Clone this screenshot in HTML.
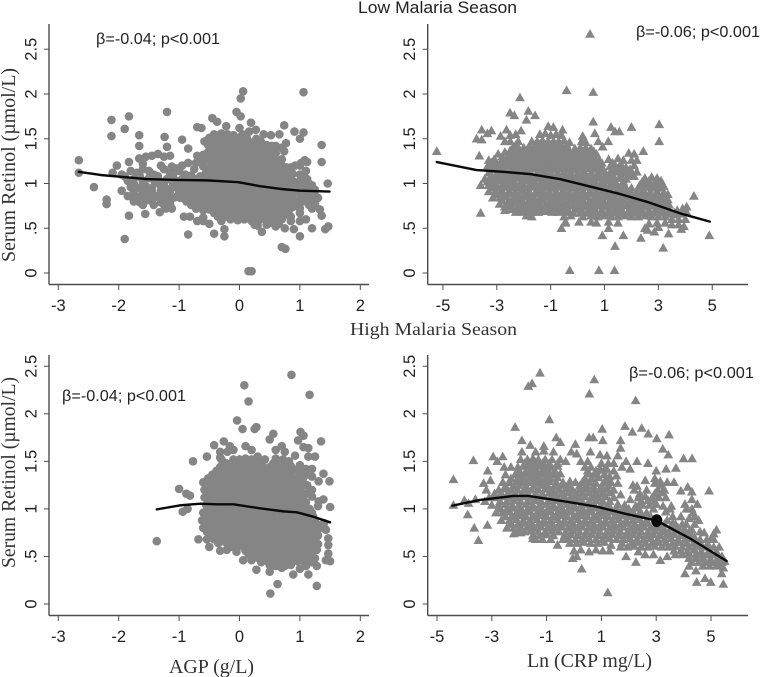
<!DOCTYPE html>
<html lang="en">
<head>
<meta charset="utf-8">
<title>Serum Retinol vs AGP and CRP</title>
<style>
html,body{margin:0;padding:0;background:#fff;}
svg{display:block;}
.serif{font-family:"Liberation Serif",serif;fill:#333;}
.sans{font-family:"Liberation Sans",sans-serif;fill:#222;}
</style>
</head>
<body>
<svg id="chart" xmlns="http://www.w3.org/2000/svg" width="760" height="677" viewBox="0 0 760 677">
<text class="sans" x="358" y="13" font-size="17" textLength="159" lengthAdjust="spacingAndGlyphs">Low Malaria Season</text>
<text class="serif" x="350" y="335" font-size="17.5" textLength="167" lengthAdjust="spacingAndGlyphs">High Malaria Season</text>
<text class="serif" transform="translate(15,262) rotate(-90)" font-size="20" textLength="194" lengthAdjust="spacingAndGlyphs">Serum Retinol (µmol/L)</text>
<text class="serif" transform="translate(15,568) rotate(-90)" font-size="20" textLength="191" lengthAdjust="spacingAndGlyphs">Serum Retinol (µmol/L)</text>
<text class="serif" x="169" y="673" font-size="20" textLength="85" lengthAdjust="spacingAndGlyphs">AGP (g/L)</text>
<text class="serif" x="527" y="667" font-size="20" textLength="125" lengthAdjust="spacingAndGlyphs">Ln (CRP mg/L)</text>
<g id="panels"></g>
<text class="sans" x="96" y="44" font-size="16" textLength="124" lengthAdjust="spacingAndGlyphs">β=-0.04; p&lt;0.001</text>
<text class="sans" x="636" y="37" font-size="16" textLength="124" lengthAdjust="spacingAndGlyphs">β=-0.06; p&lt;0.001</text>
<text class="sans" x="62" y="401" font-size="16" textLength="124" lengthAdjust="spacingAndGlyphs">β=-0.04; p&lt;0.001</text>
<text class="sans" x="629" y="378" font-size="16" textLength="125" lengthAdjust="spacingAndGlyphs">β=-0.06; p&lt;0.001</text>
</svg>
<script>
const agpTicks = [-3,-2,-1,0,1,2];
const crpTicksLow = [-5,-3,-1,1,3,5];
const crpTicksHigh = [-5,-3,-1,1,3,5];
const retinolTicks = [0,0.5,1,1.5,2,2.5];
const retinolTickLabels = ["0",".5","1","1.5","2","2.5"];

const lowAgpFit = [[-2.66,1.13],[-2.3,1.095],[-1.54,1.05],[-1.04,1.04],[-0.54,1.035],[-0.02,1.015],[0.34,0.97],[0.67,0.94],[1,0.92],[1.49,0.91]];
const lowCrpFit = [[-5.23,1.24],[-3.75,1.15],[-2.76,1.13],[-1.77,1.106],[-0.66,1.05],[0.58,0.957],[1.57,0.883],[2.56,0.797],[3.8,0.667],[4.91,0.574]];
const highAgpFit = [[-1.37,0.995],[-0.99,1.037],[-0.65,1.055],[-0.38,1.048],[-0.1,1.048],[0.34,1.006],[0.73,0.974],[0.95,0.964],[1.22,0.918],[1.5,0.859]];
const highCrpFit = [[-4.44,1.034],[-3.43,1.094],[-2.21,1.136],[-1.67,1.136],[-0.27,1.076],[0.83,1.023],[1.92,0.946],[3.02,0.876],[4.23,0.69],[5.57,0.452]];
const highCrpMarker = [3.02,0.876];

const lowAgpPoints = [
[-2.66,1.26],[-2.66,1.12],[-2.41,.96],[-2.2,.82],[-2.2,.77],[-2.12,1.71],[-2.12,1.53],[-1.9,1.61],[-1.83,1.75],[-1.83,1.24],[-1.9,.38],[-1.83,.64],[-1.66,1.54],[-1.66,1.42],[-1.66,1.28],[-1.56,.66],[-1.2,1.8],[-1.24,1.52],[-1.2,1.41],[-.95,1.49],[-.85,.43],[-.42,.44],[-.25,.41],[.06,2.03],[.02,1.95],[-.05,1.8],[.02,1.75],[1.06,2.02],[.74,1.65],[.91,1.58],[1.06,1.57],[1,1.5],[1.36,1.43],[1.36,1.24],[1.46,1],[1.47,.52],[1.42,.49],[1.2,.5],[1,.41],[.7,.29],[.76,.27],[.15,.02],[.2,.02],[.37,.46],[1.36,.64],[1.33,.71],
[-.45,1.73],[-.37,1.69],[-.22,1.64],[-.7,1.63],[-.63,1.62],[0,1.62],[.19,1.68],[.16,1.58],[.27,1.6],[.4,1.55],[.52,1.54],[.66,1.55],[.77,1.45],[.74,1.36],[.53,1.42],[-.85,1.39],
[-1.55,1.3],[-1.45,1.31],[-1.35,1.33],[-1.25,1.3],[-1.15,1.31],
[-2.03,1.2],[-1.6,1.22],[-1.3,1.2],[-1.12,1.19],[-.95,1.2],
[-2.1,1.12],[-1.95,1.1],[-1.8,1.14],[-1.7,1.12],[-1.5,1.14],[-1.42,1.1],[-1.15,1.12],[-1,1.14],[-.9,1.1],
[-1.85,1.03],[-1.75,1.05],[-1.6,1.03],[-1.5,1.06],[-1.3,1.02],[-1.2,1.05],[-1.05,1.03],[-.95,1.05],[-.82,1.03],[-.7,1.05],
[-1.95,.92],[-1.8,.96],[-1.7,.95],[-1.55,.97],[-1.45,.95],[-1.3,.97],[-1.2,.94],[-1.1,.96],[-.98,.97],[-.86,.95],[-.75,.97],[-.63,.95],
[-1.85,.86],[-1.75,.88],[-1.62,.87],[-1.5,.89],[-1.38,.86],[-1.28,.88],[-1.18,.89],[-1.05,.85],[-.93,.88],[-.8,.87],[-.7,.89],[-.58,.87],
[-1.75,.8],[-1.65,.79],[-1.55,.81],[-1.45,.8],[-1.3,.79],[-1.2,.81],[-.88,.8],[-.75,.79],[-.62,.81],
[-1.32,.68],[-1.22,.72],[-1.12,.72],[-.72,.72],[-.6,.7],
[-.92,.63],[-.82,.63],[-.6,.58],[-.5,.55],
[-.42,1.55],[-.3,1.56],[-.2,1.55],[-.1,1.54],[.05,1.55],
[-.58,1.47],[-.48,1.48],[-.38,1.47],[-.26,1.47],[-.14,1.46],[-.02,1.47],[.1,1.47],[.22,1.46],[.35,1.47],
[-.46,1.39],[-.34,1.39],[-.22,1.4],[-.1,1.39],[.02,1.39],[.14,1.4],[.26,1.38],[.4,1.39],[.5,1.38],[.7,1.4],
[-.7,1.31],[-.6,1.32],[-.42,1.31],[-.3,1.31],[-.18,1.32],[-.06,1.31],[.06,1.31],[.18,1.3],[.3,1.31],[.42,1.32],[.54,1.31],
[-.85,1.23],[-.72,1.23],[-.6,1.24],[-.45,1.23],[-.33,1.23],[-.21,1.22],[-.09,1.23],[.03,1.24],[.15,1.23],[.27,1.23],[.39,1.22],[.51,1.23],[.63,1.24],[1.02,1.23],[1.08,1.26],[1.12,1.24],
[-.54,1.15],[-.42,1.15],[-.3,1.16],[-.18,1.15],[-.06,1.15],[.06,1.14],[.18,1.15],[.3,1.15],[.42,1.16],[.54,1.15],[.66,1.15],[.78,1.18],[.92,1.2],[1,1.2],[1.1,1.14],
[-.5,1.07],[-.38,1.07],[-.26,1.08],[-.14,1.07],[-.02,1.07],[.1,1.06],[.22,1.07],[.34,1.07],[.46,1.08],[.58,1.07],[.7,1.07],[.82,1.08],[1.05,1.08],[1.12,1.05],
[-.5,.99],[-.38,.99],[-.26,1],[-.14,.99],[-.02,.99],[.1,.98],[.22,.99],[.34,.99],[.46,1],[.58,.99],[.7,.99],[.82,1],[.9,.98],[1.15,1],[1.2,.98],
[-.5,.91],[-.38,.91],[-.26,.92],[-.14,.91],[-.02,.91],[.1,.9],[.22,.91],[.34,.91],[.46,.92],[.58,.91],[.7,.91],[.82,.92],[.94,.9],[1,.91],[1.1,.88],[1.2,.9],[1.3,.84],
[-.55,.83],[-.43,.83],[-.31,.84],[-.19,.83],[-.07,.83],[.05,.82],[.17,.83],[.29,.83],[.41,.84],[.53,.83],[.65,.83],[.77,.84],[.89,.82],[1.2,.8],[1.25,.83],
[-.55,.75],[-.43,.75],[-.31,.76],[-.19,.75],[-.07,.75],[.05,.74],[.17,.75],[.29,.75],[.41,.76],[.53,.75],[.65,.75],[.77,.76],[.89,.74],[.95,.76],[1.15,.76],[1.25,.77],
[-.42,.67],[-.3,.67],[-.18,.68],[-.06,.67],[.06,.67],[.18,.66],[.3,.67],[.42,.68],[.54,.67],[.66,.67],[.8,.66],[1,.67],
[-.7,.58],[-.6,.62],[-.3,.58],[-.15,.6],[-.03,.59],[.08,.6],[.2,.58],[.32,.59],[.44,.59],[.55,.58],[.7,.6],[.85,.58],[1,.58],[1.1,.6],
[.3,.53],[.45,.54],[.6,.52],[.75,.5],[.9,.49],[-.25,.49]
];
const lowAgpDense = [
[-.5,1.51],[-.38,1.51],[-.26,1.52],[-.14,1.51],[-.02,1.51],[.12,1.51],[.28,1.5],
[-.52,1.43],[-.4,1.43],[-.28,1.44],[-.16,1.43],[-.04,1.43],[.08,1.43],[.2,1.44],[.32,1.43],[.45,1.43],[.6,1.42],
[-.52,1.35],[-.36,1.35],[-.24,1.36],[-.12,1.35],[0,1.35],[.12,1.35],[.24,1.36],[.36,1.35],[.48,1.35],[.6,1.34],
[-.66,1.27],[-.52,1.27],[-.39,1.28],[-.27,1.27],[-.15,1.27],[-.03,1.27],[.09,1.28],[.21,1.27],[.33,1.27],[.45,1.27],[.57,1.28],[.7,1.27],
[-.6,1.19],[-.48,1.19],[-.36,1.2],[-.24,1.19],[-.12,1.19],[0,1.19],[.12,1.2],[.24,1.19],[.36,1.19],[.48,1.19],[.6,1.2],[.72,1.19],[.85,1.18],
[-.56,1.11],[-.44,1.11],[-.32,1.12],[-.2,1.11],[-.08,1.11],[.04,1.11],[.16,1.12],[.28,1.11],[.4,1.11],[.52,1.11],[.64,1.12],[.76,1.11],[.88,1.11],[1,1.1],
[-.56,1.03],[-.44,1.03],[-.32,1.04],[-.2,1.03],[-.08,1.03],[.04,1.03],[.16,1.04],[.28,1.03],[.4,1.03],[.52,1.03],[.64,1.04],[.76,1.03],[.88,1.03],[1,1.03],[1.1,1.02],
[-.56,.95],[-.44,.95],[-.32,.96],[-.2,.95],[-.08,.95],[.04,.95],[.16,.96],[.28,.95],[.4,.95],[.52,.95],[.64,.96],[.76,.95],[.88,.95],[1,.95],[1.1,.96],[1.25,.93],
[-.6,.87],[-.44,.87],[-.32,.88],[-.2,.87],[-.08,.87],[.04,.87],[.16,.88],[.28,.87],[.4,.87],[.52,.87],[.64,.88],[.76,.87],[.88,.87],[1.02,.86],[1.15,.85],[1.25,.87],
[-.5,.79],[-.37,.79],[-.25,.8],[-.13,.79],[-.01,.79],[.11,.79],[.23,.8],[.35,.79],[.47,.79],[.59,.79],[.71,.8],[.83,.79],[.95,.8],[1.05,.8],
[-.5,.71],[-.37,.71],[-.25,.72],[-.13,.71],[-.01,.71],[.11,.71],[.23,.72],[.35,.71],[.47,.71],[.59,.71],[.71,.72],[.83,.71],[1,.72],[1.2,.72],
[-.36,.63],[-.24,.63],[-.12,.64],[0,.63],[.12,.63],[.24,.63],[.36,.64],[.48,.63],[.6,.63],[.72,.63],[.85,.63],[.5,.56],[.65,.55],[.25,.54],
[-1.6,1.16],[-1.25,1.16],[-1.05,1.17],[-.75,1.16],
[-1.9,1.08],[-1.65,1.08],[-1.35,1.08],[-1.1,1.08],[-.8,1.09],[-.65,1.08],
[-1.75,1],[-1.6,1],[-1.4,1.01],[-1.25,1],[-1.1,1],[-1,1],[-.9,1.01],[-.78,1],[-.66,1],
[-1.75,.92],[-1.6,.92],[-1.45,.92],[-1.3,.92],[-1.15,.92],[-1,.92],[-.87,.92],[-.74,.93],[-.62,.92],
[-1.7,.84],[-1.55,.84],[-1.42,.84],[-1.25,.84],[-1.1,.84],[-.98,.84],[-.85,.84],[-.72,.84],[-.6,.84],
[-1.6,.76],[-1.42,.76],[-1.25,.76],[-1.15,.77],[-.8,.76],[-.65,.76]
];

const lowCrpPoints = [
[-5.23,1.36],[.46,2.67],[-.41,2.04],[.58,2.02],[-2.14,1.96],[3.03,1.66],[3.03,1.47],[2,1.63],[2.44,1.36],[4.32,.86],[4.05,.74],[4.89,.42],[3.18,.28],[1.39,.3],[-.29,.03],[.79,.03],[1.37,.03],[-3.6,.67],[-3.65,1.31],[.58,1.69],[-2.51,1.79],[-2.35,1.76],[-1.83,1.81],[-1.9,1.71],[-1.58,1.76],[-3.75,1.5],[-3.56,1.6],[-3.2,1.59],[-3.35,1.56],[-3.56,1.49],[-2.64,1.6],[-2.86,1.53],[-2.1,1.59],[-1.09,1.64],[-.9,1.63],[-.56,1.6],[.19,1.53],[.64,1.56],[1.24,1.63],[1.39,1.58],[1.55,1.58],[1.14,1.47],[.77,1.47],[.93,1.41],[.92,.42],[1.7,.42],[2.35,.39],[3.38,.44],[-.6,.5],[-.45,.56],[1.15,.5],[2.6,.48],[2.85,.46],[3,.51],
[-2.5,1.54],[-2.3,1.55],[-1.4,1.55],[-1.2,1.56],[-1,1.54],[-.8,1.55],[-.6,1.54],
[-2.7,1.47],[-2.5,1.47],[-2.2,1.47],[-1.7,1.47],[-1.5,1.47],[-1.3,1.48],[-1.1,1.47],[-.9,1.47],[-.7,1.47],[-.5,1.48],[-.3,1.46],[.15,1.47],[.3,1.46],
[-2.4,1.4],[-2.2,1.4],[-2,1.4],[-1.8,1.41],[-1.6,1.4],[-1.4,1.4],[-1.2,1.41],[-1,1.4],[-.8,1.4],[-.6,1.39],[-.4,1.4],[-.1,1.39],[.1,1.4],[.3,1.4],[.5,1.39],
[-2.95,1.33],[-2.7,1.35],[-2.5,1.33],[-2.3,1.34],[-2.1,1.33],[-1.9,1.33],[-1.7,1.34],[-1.5,1.33],[-1.3,1.33],[-1.1,1.34],[-.9,1.33],[-.7,1.33],[-.5,1.33],[-.3,1.34],[-.1,1.33],[.1,1.33],[.3,1.32],[.5,1.33],[.7,1.33],[1.9,1.34],[2.1,1.33],
[-3.3,1.26],[-3.1,1.27],[-2.8,1.26],[-2.6,1.26],[-2.4,1.27],[-2.2,1.26],[-2,1.26],[-1.8,1.26],[-1.6,1.27],[-1.4,1.26],[-1.2,1.26],[-1,1.26],[-.8,1.27],[-.6,1.26],[-.4,1.26],[-.2,1.26],[0,1.27],[.2,1.26],[.4,1.26],[.6,1.25],[.8,1.26],[1.15,1.27],[1.5,1.28],[1.7,1.26],[2,1.26],[2.2,1.26],
[-3.35,1.19],[-3.1,1.19],[-2.9,1.2],[-2.7,1.19],[-2.5,1.19],[-2.3,1.19],[-2.1,1.2],[-1.9,1.19],[-1.7,1.19],[-1.5,1.19],[-1.3,1.2],[-1.1,1.19],[-.9,1.19],[-.7,1.19],[-.5,1.2],[-.3,1.19],[-.1,1.19],[.1,1.19],[.3,1.2],[.5,1.19],[.7,1.19],[.9,1.18],[1.2,1.19],[1.4,1.2],[1.6,1.19],[1.8,1.18],[2.1,1.2],
[-3.3,1.12],[-3,1.12],[-2.75,1.13],[-2.5,1.12],[-2.25,1.12],[-2,1.13],[-1.75,1.12],[-1.5,1.12],[-1.25,1.13],[-1,1.12],[-.75,1.12],[-.5,1.13],[-.25,1.12],[0,1.12],[.25,1.13],[.5,1.12],[.75,1.12],[1,1.13],[1.2,1.12],[1.45,1.13],[1.7,1.12],[2,1.11],[2.2,1.13],
[-3.45,1.05],[-3.2,1.05],[-2.95,1.06],[-2.7,1.05],[-2.45,1.05],[-2.2,1.06],[-1.95,1.05],[-1.7,1.05],[-1.45,1.06],[-1.2,1.05],[-.95,1.05],[-.7,1.06],[-.45,1.05],[-.2,1.05],[.05,1.06],[.3,1.05],[.55,1.05],[.8,1.06],[1.05,1.05],[1.3,1.05],[1.55,1.06],[1.8,1.05],[2.5,1.06],[2.75,1.07],[2.95,1.06],[3.1,1.03],
[-3.6,.98],[-3.3,.98],[-3.05,.99],[-2.8,.98],[-2.55,.98],[-2.3,.99],[-2.05,.98],[-1.8,.98],[-1.55,.99],[-1.3,.98],[-1.05,.98],[-.8,.99],[-.55,.98],[-.3,.98],[-.05,.99],[.2,.98],[.45,.98],[.7,.99],[.95,.98],[1.2,.98],[1.45,.99],[1.7,.97],[2.3,.98],[2.55,.99],[2.8,.98],[3.05,.98],[3.2,.97],
[-3.3,.91],[-3.05,.91],[-2.8,.92],[-2.55,.91],[-2.3,.91],[-2.05,.92],[-1.8,.91],[-1.55,.91],[-1.3,.92],[-1.05,.91],[-.8,.91],[-.55,.92],[-.3,.91],[-.05,.91],[.2,.92],[.45,.91],[.7,.91],[.95,.92],[1.2,.91],[1.45,.91],[1.7,.92],[1.95,.91],[2.2,.91],[2.45,.92],[2.7,.91],[2.95,.91],[3.2,.9],[3.35,.88],
[-3.15,.84],[-2.9,.84],[-2.65,.85],[-2.4,.84],[-2.15,.84],[-1.9,.85],[-1.65,.84],[-1.4,.84],[-1.15,.85],[-.9,.84],[-.65,.84],[-.4,.85],[-.15,.84],[.1,.84],[.35,.85],[.6,.84],[.85,.84],[1.1,.85],[1.35,.84],[1.6,.84],[1.85,.85],[2.1,.84],[2.35,.84],[2.6,.85],[2.85,.84],[3.1,.84],[3.35,.82],
[-2.9,.77],[-2.6,.77],[-2.35,.78],[-2.1,.77],[-1.85,.77],[-1.6,.78],[-1.35,.77],[-1.1,.77],[-.85,.78],[-.6,.77],[-.35,.77],[-.1,.78],[.15,.77],[.4,.77],[.65,.78],[.9,.77],[1.15,.77],[1.4,.78],[1.65,.77],[1.9,.77],[2.15,.78],[2.4,.77],[2.65,.77],[2.9,.78],[3.15,.77],[3.4,.76],[3.7,.7],[3.9,.72],
[-2.7,.7],[-2.45,.71],[-2.2,.7],[-1.85,.69],[-1.6,.71],[-1.35,.7],[-1.1,.7],[-.85,.71],[-.6,.7],[-.35,.7],[-.1,.71],[.15,.7],[.4,.7],[.65,.71],[.9,.7],[1.15,.7],[1.4,.71],[1.65,.7],[1.9,.7],[2.15,.71],[2.4,.7],[2.65,.7],[2.9,.71],[3.15,.7],[3.4,.7],[3.65,.65],[3.85,.66],[4.05,.68],
[-1.9,.64],[-1.7,.63],[-.5,.63],[-.25,.64],[.2,.63],[.5,.64],[.75,.63],[1,.64],[1.25,.63],[1.5,.63],[1.75,.64],[2,.63],[2.25,.63],[2.5,.64],[2.75,.63],[3,.63],[3.25,.63],[3.5,.6],[3.75,.6],[4,.6],
[-.45,.57],[.05,.57],[.5,.57],[.7,.56],[1.15,.57],[1.5,.56],[2.65,.55],[2.95,.56],[3.25,.56],[3.5,.54],[3.75,.54],[3.95,.52],[2.5,.5],[3.85,.49]
];
const lowCrpDense = [
[-2.3,1.43],[-1.6,1.43],[-1.4,1.44],[-1.2,1.43],[-1,1.43],[-.8,1.44],[-.6,1.43],[-.4,1.43],
[-2.5,1.37],[-2.3,1.37],[-2.1,1.36],[-1.9,1.37],[-1.7,1.37],[-1.5,1.36],[-1.3,1.37],[-1.1,1.37],[-.9,1.36],[-.7,1.37],[-.5,1.37],[-.3,1.36],[-.1,1.36],[.1,1.37],[.3,1.36],[.6,1.36],
[-2.8,1.3],[-2.6,1.3],[-2.4,1.3],[-2.2,1.31],[-2,1.3],[-1.8,1.3],[-1.6,1.3],[-1.4,1.31],[-1.2,1.3],[-1,1.3],[-.8,1.3],[-.6,1.31],[-.4,1.3],[-.2,1.3],[0,1.3],[.2,1.31],[.4,1.3],[.6,1.3],
[-3.2,1.23],[-3,1.23],[-2.7,1.23],[-2.5,1.24],[-2.3,1.23],[-2.1,1.23],[-1.9,1.23],[-1.7,1.24],[-1.5,1.23],[-1.3,1.23],[-1.1,1.23],[-.9,1.24],[-.7,1.23],[-.5,1.23],[-.3,1.23],[-.1,1.24],[.1,1.23],[.3,1.23],[.5,1.23],[.7,1.24],[.9,1.23],[1.3,1.23],[1.6,1.22],
[-3.2,1.16],[-3,1.16],[-2.8,1.16],[-2.55,1.17],[-2.3,1.16],[-2.05,1.16],[-1.8,1.16],[-1.55,1.17],[-1.3,1.16],[-1.05,1.16],[-.8,1.16],[-.55,1.17],[-.3,1.16],[-.05,1.16],[.2,1.16],[.45,1.17],[.7,1.16],[.95,1.16],[1.3,1.16],[1.5,1.16],[1.7,1.15],[1.95,1.16],
[-3.2,1.09],[-2.95,1.09],[-2.7,1.1],[-2.45,1.09],[-2.2,1.09],[-1.95,1.09],[-1.7,1.1],[-1.45,1.09],[-1.2,1.09],[-.95,1.09],[-.7,1.1],[-.45,1.09],[-.2,1.09],[.05,1.09],[.3,1.1],[.55,1.09],[.8,1.09],[1.05,1.09],[1.3,1.1],[1.6,1.09],[1.9,1.09],[2.1,1.08],
[-3.35,1.02],[-3.1,1.02],[-2.85,1.03],[-2.6,1.02],[-2.35,1.02],[-2.1,1.02],[-1.85,1.03],[-1.6,1.02],[-1.35,1.02],[-1.1,1.02],[-.85,1.03],[-.6,1.02],[-.35,1.02],[-.1,1.02],[.15,1.03],[.4,1.02],[.65,1.02],[.9,1.02],[1.15,1.03],[1.4,1.02],[1.7,1.02],[2.4,1.02],[2.65,1.03],[2.9,1.02],
[-3.2,.95],[-2.95,.95],[-2.7,.96],[-2.45,.95],[-2.2,.95],[-1.95,.95],[-1.7,.96],[-1.45,.95],[-1.2,.95],[-.95,.95],[-.7,.96],[-.45,.95],[-.2,.95],[.05,.95],[.3,.96],[.55,.95],[.8,.95],[1.05,.95],[1.3,.96],[1.55,.95],[1.8,.95],[2,.95],[2.4,.95],[2.65,.96],[2.9,.95],[3.1,.95],
[-3,.88],[-2.75,.88],[-2.5,.89],[-2.25,.88],[-2,.88],[-1.75,.88],[-1.5,.89],[-1.25,.88],[-1,.88],[-.75,.88],[-.5,.89],[-.25,.88],[0,.88],[.25,.88],[.5,.89],[.75,.88],[1,.88],[1.25,.88],[1.5,.89],[1.75,.88],[2,.88],[2.25,.88],[2.5,.89],[2.75,.88],[3,.88],[3.25,.87],
[-2.8,.81],[-2.55,.81],[-2.3,.82],[-2.05,.81],[-1.8,.81],[-1.55,.81],[-1.3,.82],[-1.05,.81],[-.8,.81],[-.55,.81],[-.3,.82],[-.05,.81],[.2,.81],[.45,.81],[.7,.82],[.95,.81],[1.2,.81],[1.45,.81],[1.7,.82],[1.95,.81],[2.2,.81],[2.45,.81],[2.7,.82],[2.95,.81],[3.2,.81],[3.3,.8],
[-2.7,.74],[-2.45,.74],[-2.2,.75],[-1.95,.74],[-1.7,.74],[-1.45,.74],[-1.2,.75],[-.95,.74],[-.7,.74],[-.45,.74],[-.2,.75],[.05,.74],[.3,.74],[.55,.74],[.8,.75],[1.05,.74],[1.3,.74],[1.55,.74],[1.8,.75],[2.05,.74],[2.3,.74],[2.55,.74],[2.8,.75],[3.05,.74],[3.3,.74],
[-2.3,.68],[-2,.68],[-1.7,.68],[-1.45,.68],[-1.2,.69],[-.95,.68],[-.7,.68],[-.4,.68],[-.15,.67],[.1,.67],[.35,.67],[.6,.67],[.85,.67],[1.1,.67],[1.35,.67],[1.6,.67],[1.85,.67],[2.1,.67],[2.35,.67],[2.6,.67],[2.85,.67],[3.1,.67],[3.35,.66],[3.6,.67]
];

const highAgpPoints = [
[-1.37,.66],[-1,1.21],[-.88,1.16],[-.82,1.14],[-.94,.97],[-.86,1],[-.77,1.5],[-.54,1.55],[-.68,.68],[.08,2.3],[.15,2.13],[.86,2.41],[1.16,2.2],[-.04,1.93],[.05,1.84],[.28,1.86],[.25,1.84],[1.35,1.71],[1.01,1.81],[1.06,1.77],[.97,1.72],[1.06,1.65],[1.14,1.64],[.56,1.79],[.5,1.73],[-.42,1.67],[-.26,1.71],[-.16,1.66],[-.32,1.6],[-.32,1.54],[.92,1.56],[1.14,1.55],[1.25,1.55],[1.2,1.42],[1.39,1.37],[1.31,1.29],[1.49,1.29],[1.5,1.02],[1.39,1.1],[1.31,1.08],[1.47,.62],[1.47,.69],[1.47,.53],[1.5,.45],[1.43,.46],[1.28,.4],[1.14,.31],[1.28,.19],[.89,.31],[.63,.21],[.51,.11],[.5,.34],[.28,.36],[.7,.38],[.06,.46],[.2,.46],[-.05,.55],[-.32,.56],[-.5,.6],[-.54,.68],[-.21,.57],[-.12,.6],[1.2,1.2],[1.12,1.25],[1.4,.85],[1.43,.78],
[-.2,1.6],[-.1,1.62],[.1,1.66],[.2,1.62],[.6,1.62],[.7,1.66],[.75,1.6],
[-.3,1.52],[-.1,1.52],[0,1.52],[.1,1.53],[.2,1.52],[.3,1.55],[.42,1.52],[.6,1.53],[.72,1.52],[.82,1.5],
[-.32,1.44],[-.22,1.44],[-.1,1.45],[.02,1.44],[.14,1.44],[.26,1.44],[.38,1.45],[.5,1.44],[.62,1.44],[.74,1.44],[.85,1.45],[1,1.46],[1.1,1.42],
[-.45,1.36],[-.32,1.36],[-.22,1.37],[-.1,1.36],[.02,1.36],[.14,1.37],[.26,1.36],[.38,1.36],[.5,1.37],[.62,1.36],[.74,1.36],[.85,1.37],[1,1.38],[1.1,1.36],[1.2,1.34],
[-.6,1.28],[-.48,1.28],[-.36,1.29],[-.24,1.28],[-.12,1.28],[0,1.29],[.12,1.28],[.24,1.28],[.36,1.29],[.48,1.28],[.6,1.28],[.72,1.29],[.84,1.28],[.95,1.28],[1.1,1.25],
[-.58,1.2],[-.46,1.2],[-.34,1.21],[-.22,1.2],[-.1,1.2],[.02,1.21],[.14,1.2],[.26,1.2],[.38,1.21],[.5,1.2],[.62,1.2],[.74,1.21],[.86,1.2],[.98,1.2],[1.15,1.17],
[-.58,1.12],[-.46,1.12],[-.34,1.13],[-.22,1.12],[-.1,1.12],[.02,1.13],[.14,1.12],[.26,1.12],[.38,1.13],[.5,1.12],[.62,1.12],[.74,1.13],[.86,1.12],[.98,1.12],[1.05,1.1],[1.2,1.13],
[-.55,1.04],[-.43,1.04],[-.31,1.05],[-.19,1.04],[-.07,1.04],[.05,1.05],[.17,1.04],[.29,1.04],[.41,1.05],[.53,1.04],[.65,1.04],[.77,1.05],[.89,1.04],[1,1.04],[1.3,1.03],
[-.6,.96],[-.48,.96],[-.36,.97],[-.24,.96],[-.12,.96],[0,.97],[.12,.96],[.24,.96],[.36,.97],[.48,.96],[.6,.96],[.72,.97],[.84,.96],[.96,.96],[1.08,.97],[1.2,.96],
[-.62,.88],[-.5,.88],[-.38,.89],[-.26,.88],[-.14,.88],[-.02,.89],[.1,.88],[.22,.88],[.34,.89],[.46,.88],[.58,.88],[.7,.89],[.82,.88],[.94,.88],[1.06,.89],[1.18,.88],[1.25,.87],
[-.6,.8],[-.48,.8],[-.36,.81],[-.24,.8],[-.12,.8],[0,.81],[.12,.8],[.24,.8],[.36,.81],[.48,.8],[.6,.8],[.72,.81],[.84,.8],[.96,.8],[1.08,.81],[1.2,.8],[1.33,.8],
[-.5,.72],[-.38,.72],[-.26,.73],[-.14,.72],[-.02,.72],[.1,.73],[.22,.72],[.34,.72],[.46,.73],[.58,.72],[.7,.72],[.82,.73],[.94,.72],[1.06,.72],[1.18,.73],[1.3,.72],
[-.35,.64],[-.23,.65],[-.11,.64],[.01,.64],[.13,.65],[.25,.64],[.37,.64],[.49,.65],[.61,.64],[.73,.64],[.85,.65],[.97,.64],[1.09,.64],[1.21,.65],[1.3,.63],
[.1,.56],[.2,.56],[.32,.57],[.44,.56],[.56,.56],[.68,.57],[.8,.56],[.92,.56],[1.04,.57],[1.16,.56],[1.28,.57],
[.2,.48],[.32,.48],[.44,.49],[.56,.48],[.68,.48],[.8,.49],[.92,.48],[1.04,.48],[1.16,.49],[1.25,.48],
[.5,.41],[.6,.4],[.75,.4],[.85,.41],[1,.37],[1.1,.4]
];
const highAgpDense = [
[-.22,1.48],[-.04,1.48],[.08,1.49],[.2,1.48],[.32,1.48],[.56,1.48],[.68,1.49],[.8,1.48],
[-.38,1.4],[-.26,1.4],[-.16,1.41],[-.04,1.4],[.08,1.4],[.2,1.41],[.32,1.4],[.44,1.4],[.56,1.41],[.68,1.4],[.8,1.4],[.92,1.41],[1.05,1.4],
[-.52,1.32],[-.4,1.32],[-.28,1.33],[-.16,1.32],[-.04,1.32],[.08,1.33],[.2,1.32],[.32,1.32],[.44,1.33],[.56,1.32],[.68,1.32],[.8,1.33],[.92,1.32],[1.05,1.32],
[-.52,1.24],[-.4,1.24],[-.28,1.25],[-.16,1.24],[-.04,1.24],[.08,1.25],[.2,1.24],[.32,1.24],[.44,1.25],[.56,1.24],[.68,1.24],[.8,1.25],[.92,1.24],[1.04,1.24],
[-.52,1.16],[-.4,1.16],[-.28,1.17],[-.16,1.16],[-.04,1.16],[.08,1.17],[.2,1.16],[.32,1.16],[.44,1.17],[.56,1.16],[.68,1.16],[.8,1.17],[.92,1.16],[1.04,1.16],[1.1,1.16],
[-.52,1.08],[-.4,1.08],[-.28,1.09],[-.16,1.08],[-.04,1.08],[.08,1.09],[.2,1.08],[.32,1.08],[.44,1.09],[.56,1.08],[.68,1.08],[.8,1.09],[.92,1.08],[1.04,1.08],[1.1,1.07],
[-.52,1],[-.4,1],[-.28,1.01],[-.16,1],[-.04,1],[.08,1.01],[.2,1],[.32,1],[.44,1.01],[.56,1],[.68,1],[.8,1.01],[.92,1],[1.04,1],[1.16,1],
[-.56,.92],[-.44,.92],[-.32,.93],[-.2,.92],[-.08,.92],[.04,.93],[.16,.92],[.28,.92],[.4,.93],[.52,.92],[.64,.92],[.76,.93],[.88,.92],[1,.92],[1.12,.93],[1.22,.92],
[-.56,.84],[-.44,.84],[-.32,.85],[-.2,.84],[-.08,.84],[.04,.85],[.16,.84],[.28,.84],[.4,.85],[.52,.84],[.64,.84],[.76,.85],[.88,.84],[1,.84],[1.12,.85],[1.28,.84],
[-.54,.76],[-.42,.76],[-.3,.77],[-.18,.76],[-.06,.76],[.06,.77],[.18,.76],[.3,.76],[.42,.77],[.54,.76],[.66,.76],[.78,.77],[.9,.76],[1.02,.76],[1.14,.77],[1.28,.76],
[-.42,.68],[-.3,.68],[-.18,.69],[-.06,.68],[.06,.68],[.18,.69],[.3,.68],[.42,.68],[.54,.69],[.66,.68],[.78,.68],[.9,.69],[1.02,.68],[1.14,.68],[1.26,.69],
[-.05,.6],[.07,.6],[.19,.61],[.31,.6],[.43,.6],[.55,.61],[.67,.6],[.79,.6],[.91,.61],[1.03,.6],[1.15,.6],[1.26,.61],
[.15,.52],[.27,.52],[.39,.53],[.51,.52],[.63,.52],[.75,.53],[.87,.52],[.99,.52],[1.11,.53],[1.2,.52],
[.36,.44],[.48,.44],[.6,.45],[.72,.44],[.84,.44],[.96,.45],[1.08,.44],[1.2,.44]
];

const highCrpPoints = [
[-4.4,1.31],[-4.4,1.04],[-3.67,1.51],[-3.49,.67],[-3.64,.8],[-3.88,.94],[-3.16,.83],[-1.24,2.43],[-1.67,2.29],[-1.53,2.32],[.74,2.36],[.56,2.21],[2.25,2.14],[-.9,1.94],[-2.15,1.86],[1.03,1.84],[1.86,1.87],[2.13,1.81],[2.47,1.85],[2.71,1.79],[3.02,1.74],[3.47,1.78],[3.24,1.63],[3.44,1.57],[4,1.53],[4.31,1.53],[3.72,1.43],[3.36,1.42],[4.93,1.19],[1.23,.12],[.28,.37],[2.26,.44],[4.48,.23],[4.78,.27],[4.99,.23],[5.45,.21],[5.39,.32],[4.05,.32],[5.2,.78],[-4,1.09],[-3.6,1.1],[-3.85,1.06],[-3.25,1.08],[-3.3,1.27],[-3.15,1.4],[-2.95,1.55],[-2.6,1.55],[-.65,1.75],[-.5,1.7],[.05,1.68],[.55,1.75],[.7,1.75],[1.05,1.72],[1.7,1.72],[1.7,1.64],[-1.9,1.72],[-1.6,1.67],[-1.1,1.66],
[-1.9,1.6],[-1.4,1.6],[-1.1,1.61],[-.75,1.6],[-.1,1.6],[.1,1.58],[.6,1.6],[.95,1.57],[1.2,1.56],[1.6,1.56],[1.9,1.5],[2.3,1.5],[2.7,1.48],
[-2.8,1.5],[-2.55,1.44],[-1.95,1.52],[-1.7,1.52],[-1.5,1.53],[-1.3,1.52],[-1.05,1.52],[-.8,1.52],[-.5,1.52],[-.3,1.5],[.25,1.5],[.5,1.5],[1,1.48],[1.25,1.48],[1.45,1.48],[1.75,1.44],
[-2.3,1.44],[-2.05,1.44],[-1.85,1.45],[-1.65,1.44],[-1.45,1.44],[-1.25,1.45],[-1.05,1.44],[-.85,1.44],[-.6,1.45],[.4,1.44],[.62,1.44],[.95,1.42],[1.2,1.42],[1.45,1.4],[2.05,1.42],[3,1.4],
[-3.05,1.3],[-2.5,1.36],[-2.15,1.36],[-1.95,1.36],[-1.75,1.37],[-1.55,1.36],[-1.35,1.36],[-1.15,1.37],[-.95,1.36],[-.75,1.36],[-.5,1.37],[.55,1.37],[.75,1.36],[1.1,1.36],[1.3,1.34],[1.55,1.35],[2.95,1.32],[2.6,1.3],
[-2.6,1.28],[-2.35,1.28],[-2.1,1.29],[-1.9,1.28],[-1.7,1.28],[-1.5,1.29],[-1.3,1.28],[-1.1,1.28],[-.9,1.29],[-.65,1.28],[-.4,1.28],[-.15,1.29],[.05,1.28],[.3,1.28],[.55,1.28],[.8,1.27],[1.1,1.28],[1.35,1.28],[1.6,1.27],[2.15,1.25],[2.95,1.27],[3.15,1.29],[3.4,1.28],[3.65,1.28],[4.15,1.23],
[-3.2,1.2],[-2.75,1.2],[-2.55,1.21],[-2.3,1.2],[-2.05,1.2],[-1.8,1.21],[-1.55,1.2],[-1.3,1.2],[-1.05,1.21],[-.8,1.2],[-.55,1.2],[-.3,1.21],[-.05,1.2],[.2,1.2],[.45,1.21],[.7,1.2],[.95,1.2],[1.2,1.21],[1.45,1.2],[1.7,1.15],[2.2,1.2],[2.65,1.2],[3.05,1.2],[3.3,1.2],[3.9,1.19],[4.3,1.18],
[-3.1,1.12],[-2.85,1.12],[-2.6,1.13],[-2.35,1.12],[-2.1,1.12],[-1.85,1.13],[-1.6,1.12],[-1.35,1.12],[-1.1,1.13],[-.85,1.12],[-.6,1.12],[-.35,1.13],[-.1,1.12],[.15,1.12],[.4,1.13],[.65,1.12],[.9,1.12],[1.15,1.13],[1.45,1.12],[2.05,1.1],[2.35,1.12],[2.6,1.13],[2.85,1.12],[3.1,1.12],[3.35,1.12],[4.3,1.1],
[-3,1.04],[-2.75,1.04],[-2.5,1.05],[-2.25,1.04],[-2,1.04],[-1.75,1.05],[-1.5,1.04],[-1.25,1.04],[-1,1.05],[-.75,1.04],[-.5,1.04],[-.25,1.05],[0,1.04],[.25,1.04],[.5,1.05],[.75,1.04],[1,1.04],[1.25,1.05],[1.6,1.05],[1.85,1.04],[2.25,1.03],[2.5,1.04],[2.75,1.04],[3,1.05],[3.25,1.03],[3.55,1.03],[4.05,1.05],[4.5,1.05],[4.3,1],
[-2.85,.96],[-2.6,.96],[-2.35,.97],[-2.1,.96],[-1.85,.96],[-1.6,.97],[-1.35,.96],[-1.1,.96],[-.85,.97],[-.6,.96],[-.35,.96],[-.1,.97],[.15,.96],[.4,.96],[.65,.97],[.9,.96],[1.15,.96],[1.4,.97],[1.65,.96],[1.9,.96],[2.15,.97],[2.4,.96],[2.65,.96],[3.35,.97],[4.35,.96],[4.2,.9],
[-2.65,.88],[-2.35,.88],[-2.1,.89],[-1.85,.88],[-1.6,.88],[-1.35,.89],[-1.1,.88],[-.85,.88],[-.6,.89],[-.35,.88],[-.1,.88],[.15,.89],[.4,.88],[.65,.88],[.9,.89],[1.15,.88],[1.4,.88],[1.65,.89],[1.9,.88],[2.15,.88],[2.4,.89],[2.65,.88],[3.4,.88],[3.7,.84],[3.95,.84],[4.55,.88],
[-2.45,.8],[-2.2,.8],[-1.95,.81],[-1.7,.8],[-1.45,.8],[-1.2,.81],[-.95,.8],[-.7,.8],[-.45,.81],[-.2,.8],[.05,.8],[.3,.81],[.55,.8],[.8,.8],[1.05,.81],[1.3,.8],[1.55,.8],[1.8,.81],[2.05,.8],[2.3,.8],[2.55,.81],[2.8,.8],[3.05,.8],[3.3,.78],[3.55,.8],[3.8,.8],[4.05,.78],[4.3,.78],[5.1,.74],
[-2.2,.74],[-1.95,.75],[-1.5,.72],[-1.25,.72],[-1,.73],[-.75,.72],[-.35,.72],[-.1,.73],[.15,.72],[.4,.72],[.65,.73],[.9,.72],[1.15,.72],[1.4,.73],[1.65,.72],[1.9,.72],[2.15,.73],[2.4,.72],[2.65,.72],[2.9,.73],[3.15,.72],[3.4,.72],[3.65,.73],[3.9,.72],[4.15,.72],[4.4,.7],[4.75,.75],[4.85,.68],[5.1,.68],
[-1.5,.69],[-.6,.62],[-.15,.64],[.1,.64],[.35,.65],[.6,.64],[.85,.64],[1.1,.65],[1.35,.62],[1.75,.64],[2.1,.64],[2.35,.65],[2.6,.64],[2.85,.64],[3.1,.65],[3.35,.64],[3.6,.64],[3.85,.65],[4.1,.64],[4.35,.64],[4.6,.62],[4.85,.62],[5.1,.6],[5.3,.6],
[0,.56],[.25,.57],[.55,.55],[.8,.57],[1.05,.56],[1.3,.56],[1.9,.5],[2.35,.55],[2.6,.52],[2.9,.52],[3.15,.46],[3.4,.5],[3.65,.56],[3.9,.56],[4.15,.56],[4.4,.57],[4.65,.55],[4.9,.55],[5.15,.52],[5.4,.5],
[-.05,.48],[.1,.5],[4.2,.48],[4.45,.48],[4.7,.48],[4.95,.46],[5.2,.46],[5.5,.45],
[4.2,.4],[4.45,.35],[4.7,.4],[4.95,.4],[5.2,.4],[5.45,.38]
];
const highCrpDense = [
[-1.8,1.48],[-1.6,1.48],[-1.4,1.49],[-1.15,1.48],[-.9,1.48],[-.6,1.48],
[-2,1.4],[-1.75,1.4],[-1.55,1.41],[-1.35,1.4],[-1.15,1.4],[-.95,1.41],[-.7,1.4],[.5,1.4],[.8,1.4],[1.1,1.41],
[-2.3,1.32],[-2.05,1.32],[-1.85,1.33],[-1.65,1.32],[-1.45,1.32],[-1.25,1.33],[-1.05,1.32],[-.85,1.32],[-.6,1.33],[.4,1.32],[.65,1.32],[.9,1.33],[1.2,1.32],
[-2.5,1.24],[-2.2,1.24],[-2,1.25],[-1.75,1.24],[-1.45,1.24],[-1.2,1.25],[-.95,1.24],[-.7,1.24],[-.45,1.25],[-.2,1.24],[.2,1.24],[.45,1.25],[.7,1.24],[1,1.24],[1.25,1.25],[2.3,1.24],[3.2,1.25],
[-2.9,1.16],[-2.65,1.16],[-2.4,1.17],[-2.15,1.16],[-1.9,1.16],[-1.7,1.17],[-1.4,1.16],[-1.15,1.16],[-.9,1.17],[-.7,1.16],[-.45,1.16],[-.2,1.17],[.05,1.16],[.3,1.16],[.55,1.17],[.8,1.16],[1.05,1.16],[1.3,1.17],[2.4,1.16],[2.95,1.16],[3.2,1.17],
[-2.7,1.08],[-2.45,1.08],[-2.2,1.09],[-1.95,1.08],[-1.7,1.08],[-1.45,1.09],[-1.2,1.08],[-.95,1.08],[-.7,1.09],[-.45,1.08],[-.2,1.08],[.05,1.09],[.3,1.08],[.55,1.08],[.8,1.09],[1.05,1.08],[1.3,1.08],[2.45,1.08],[2.7,1.09],[2.95,1.08],
[-2.7,1],[-2.45,1],[-2.2,1.01],[-1.95,1],[-1.7,1],[-1.45,1.01],[-1.2,1],[-.95,1],[-.7,1.01],[-.45,1],[-.2,1],[.05,1.01],[.3,1],[.55,1],[.8,1.01],[1.05,1],[1.3,1],[1.55,1.01],[1.8,1],[2,1],[2.35,1.01],[2.9,1],[3.5,1],[4.1,1],
[-2.5,.92],[-2.25,.92],[-2,.93],[-1.75,.92],[-1.5,.92],[-1.25,.93],[-1,.92],[-.75,.92],[-.5,.93],[-.25,.92],[0,.92],[.25,.93],[.5,.92],[.75,.92],[1,.93],[1.25,.92],[1.5,.92],[1.75,.93],[2,.92],[2.25,.92],[2.5,.93],[2.8,.92],[3.6,.92],[3.9,.92],[4.4,.92],
[-2.3,.84],[-2.05,.84],[-1.8,.85],[-1.55,.84],[-1.3,.84],[-1.05,.85],[-.8,.84],[-.55,.84],[-.3,.85],[-.05,.84],[.2,.84],[.45,.85],[.7,.84],[.95,.84],[1.2,.85],[1.45,.84],[1.7,.84],[1.95,.85],[2.2,.84],[2.45,.84],[2.7,.85],[3,.84],[3.3,.84],[3.6,.85],[4.1,.84],[4.4,.84],
[-2.05,.76],[-1.8,.76],[-1.55,.77],[-1.3,.76],[-1.05,.76],[-.8,.77],[-.55,.76],[-.3,.76],[-.05,.77],[.2,.76],[.45,.76],[.7,.77],[.95,.76],[1.2,.76],[1.45,.77],[1.7,.76],[1.95,.76],[2.2,.77],[2.45,.76],[2.7,.76],[2.95,.77],[3.2,.76],[3.45,.76],[3.7,.77],[3.95,.76],[4.2,.76],[4.6,.76],
[-1.4,.68],[-1.15,.68],[-.85,.68],[-.4,.68],[-.2,.69],[.05,.68],[.3,.68],[.55,.69],[.8,.68],[1.05,.68],[1.3,.69],[1.55,.68],[1.8,.68],[2.05,.69],[2.3,.68],[2.55,.68],[2.8,.69],[3.05,.68],[3.3,.68],[3.55,.69],[3.8,.68],[4.05,.68],[4.3,.69],[4.6,.68],[5,.68],
[1.7,.6],[1.95,.6],[2.2,.61],[2.45,.6],[2.7,.6],[2.95,.61],[3.2,.6],[3.45,.6],[3.7,.61],[3.95,.6],[4.2,.6],[4.45,.61],[4.7,.6],[4.95,.6],[5.2,.55],
[3.7,.52],[3.95,.52],[4.2,.53],[4.45,.52],[4.7,.52],[4.95,.52],[5.2,.52],[5.3,.48],
[4.3,.44],[4.55,.44],[4.8,.44],[5.05,.44],[5.3,.42],[5.4,.44]
];

const panelLayouts = [
  {name:"low-agp", points:lowAgpPoints, dense:lowAgpDense, fit:lowAgpFit, xTicks:agpTicks, marker:"circle", left:49, right:369, top:24, bottom:284.5, x0:239.5, xk:60.4, y0:273, yk:89.5, labelY:311},
  {name:"low-crp", points:lowCrpPoints, dense:lowCrpDense, fit:lowCrpFit, xTicks:crpTicksLow, marker:"triangle", left:427.7, right:748, top:24, bottom:284.5, x0:577.6, xk:26.93, y0:273, yk:89.5, labelY:311},
  {name:"high-agp", points:highAgpPoints, dense:highAgpDense, fit:highAgpFit, xTicks:agpTicks, marker:"circle", left:49, right:369, top:355, bottom:615.5, x0:239.5, xk:60.4, y0:604, yk:95.1, labelY:642},
  {name:"high-crp", points:highCrpPoints, dense:highCrpDense, fit:highCrpFit, xTicks:crpTicksHigh, marker:"triangle", left:427.7, right:748, top:355, bottom:615.5, x0:574, xk:27.4, y0:604, yk:95.1, labelY:642}
];

const NS = "http://www.w3.org/2000/svg";
const MARK = "#858585";
const AXIS = "#4d4d4d";
const root = document.getElementById("panels");

function make(tag, attrs, parent){
  const el = document.createElementNS(NS, tag);
  for (const k in attrs) el.setAttribute(k, attrs[k]);
  parent.appendChild(el);
  return el;
}

function drawPanel(p){
  const sx = v => p.x0 + v * p.xk;
  const sy = v => p.y0 - v * p.yk;
  const g = make("g", {}, root);
  
  

  p.points.concat(p.dense).forEach(pt => {
    const cx = sx(pt[0]), cy = sy(pt[1]);
    let m;
    if (p.marker === "circle") {
      m = make("circle", {cx:cx, cy:cy, r:4.3, fill:MARK}, g);
    } else {
      m = make("polygon", {points:(cx)+","+(cy-5)+" "+(cx+4.9)+","+(cy+3.7)+" "+(cx-4.9)+","+(cy+3.7), fill:MARK}, g);
    }
    
    
  });

  const fit = make("polyline", {points:p.fit.map(q => sx(q[0])+","+sy(q[1])).join(" "), fill:"none", stroke:"#0a0a0a", "stroke-width":2.4, "stroke-linejoin":"round", "stroke-linecap":"round"}, g);
  
  

  const yAxis = make("line", {x1:p.left, x2:p.left, y1:p.top, y2:p.bottom, stroke:AXIS, "stroke-width":1.4}, g);
  
  
  const xAxis = make("line", {x1:p.left, x2:p.right, y1:p.bottom, y2:p.bottom, stroke:AXIS, "stroke-width":1.4}, g);
  
  

  p.xTicks.forEach(t => {
    const x = sx(t);
    const tick = make("line", {x1:x, x2:x, y1:p.bottom, y2:p.bottom+5.5, stroke:AXIS, "stroke-width":1}, g);
    
    
    const label = make("text", {x:x, y:p.labelY, "text-anchor":"middle", "font-size":16.5, "class":"sans"}, g);
    
    
    label.textContent = String(t);
  });

  retinolTicks.forEach((t, i) => {
    const y = sy(t);
    const tick = make("line", {x1:p.left-5, x2:p.left, y1:y, y2:y, stroke:AXIS, "stroke-width":1}, g);
    
    
    const lx = p.left - 12.7;
    const label = make("text", {transform:"translate("+lx+","+y+") rotate(-90)", "text-anchor":"middle", "font-size":16.5, "class":"sans"}, g);
    
    
    label.textContent = retinolTickLabels[i];
  });

  if (p.name === "high-crp") {
    const dot = make("ellipse", {cx:sx(highCrpMarker[0]), cy:sy(highCrpMarker[1]), rx:5.6, ry:6.4, fill:"#0a0a0a"}, g);
    
    
  }
}

panelLayouts.forEach(drawPanel);
</script>
</body>
</html>
